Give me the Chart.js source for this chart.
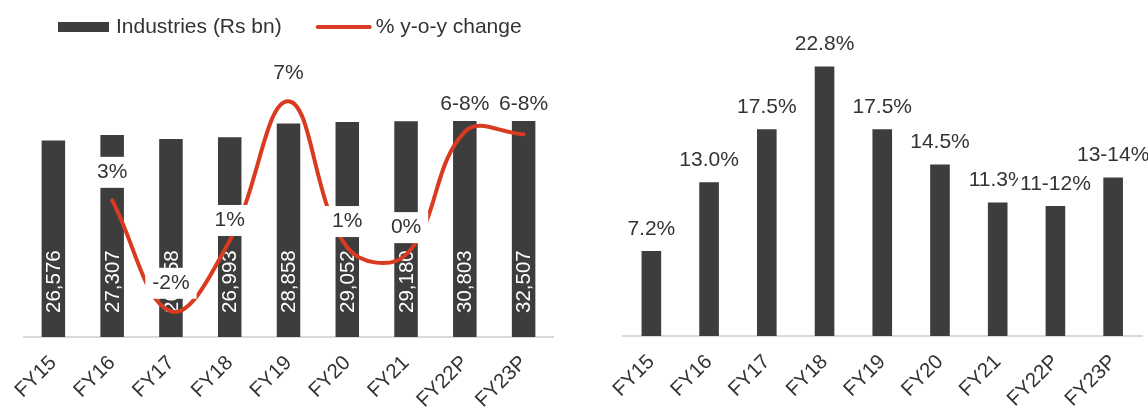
<!DOCTYPE html>
<html>
<head>
<meta charset="utf-8">
<script src="https://cdn.jsdelivr.net/npm/chart.js@4.4.1/dist/chart.umd.min.js"></script>
<style>
  html, body { margin: 0; padding: 0; background: #ffffff; }
  #wrap { position: relative; width: 1148px; height: 407px; overflow: hidden; background: #fff; }
  #left { position: absolute; left: 0; top: 0; width: 580px; height: 407px; }
  #right { position: absolute; left: 580px; top: 0; width: 568px; height: 407px; }
</style>
</head>
<body>
<div id="wrap">
  <div id="left"><canvas id="c1"></canvas></div>
  <div id="right"><canvas id="c2"></canvas></div>
</div>
<script>
// ---------- data ----------
const categories = ['FY15', 'FY16', 'FY17', 'FY18', 'FY19', 'FY20', 'FY21', 'FY22P', 'FY23P'];
const industriesRsBn = [26576, 27307, 26758, 26993, 28858, 29052, 29180, 30803, 32507];
const yoyChangePct = [null, 2.7, -2.0, 1.0, 6.9, 0.7, 0.4, 5.6, 5.5];
const yoyLabels = ['', '3%', '-2%', '1%', '7%', '1%', '0%', '6-8%', '6-8%'];
const growthPct = [7.2, 13.0, 17.5, 22.8, 17.5, 14.5, 11.3, 11.0, 13.4];
const growthLabels = ['7.2%', '13.0%', '17.5%', '22.8%', '17.5%', '14.5%', '11.3%', '11-12%', '13-14%'];
const seriesNames = ['Industries (Rs bn)', '% y-o-y change'];

// ---------- style ----------
const FONT = '"Liberation Sans", Arial, sans-serif';
const BAR = '#3d3d3d';
const RED = '#d83b1f';
const TEXT = '#333333';
const AXIS = '#d9d9d9';
// vertical lift (px) of each y-o-y label above its point
const yoyLabelLift = [0, 28, 28, 20, 28, 26, 27, 28, 30];

Chart.defaults.font.family = FONT;
Chart.defaults.color = TEXT;
Chart.defaults.animation = false;

function xAxis(height) {
  return {
    offset: true,
    grid: { display: false, drawTicks: false },
    border: { display: true, color: AXIS, width: 2 },
    ticks: { autoSkip: false, minRotation: 45, maxRotation: 45, padding: 14, color: TEXT, font: { size: 20.5, family: FONT } },
    afterFit(scale) { scale.height = height; }
  };
}

function labelBox(ctx, text, cx, cy, padX, h) {
  const w = ctx.measureText(text).width + 2 * padX;
  ctx.fillStyle = '#ffffff';
  ctx.fillRect(cx - w / 2, cy - h / 2, w, h);
  ctx.fillStyle = TEXT;
  ctx.fillText(text, cx, cy);
}

// ---------- left chart plugins ----------
const leftLabels = {
  id: 'leftLabels',
  afterDatasetDraw(chart, args) {
    const ds = chart.data.datasets[args.index];
    if (ds.type !== 'bar') return;
    const ctx = chart.ctx;
    ctx.save();
    ctx.font = '20.5px ' + FONT;
    ctx.fillStyle = '#ffffff';
    ctx.textAlign = 'left';
    ctx.textBaseline = 'middle';
    args.meta.data.forEach((bar, i) => {
      ctx.save();
      ctx.translate(bar.x, bar.base - 24);
      ctx.rotate(-Math.PI / 2);
      ctx.fillText(ds.data[i].toLocaleString('en-US'), 0, 1);
      ctx.restore();
    });
    ctx.restore();
  },
  afterDatasetsDraw(chart) {
    const ctx = chart.ctx;
    const idx = chart.data.datasets.findIndex(d => d.type === 'line');
    const meta = chart.getDatasetMeta(idx);
    ctx.save();
    ctx.font = '21px ' + FONT;
    ctx.textAlign = 'center';
    ctx.textBaseline = 'middle';
    meta.data.forEach((pt, i) => {
      if (!yoyLabels[i] || yoyChangePct[i] === null) return;
      labelBox(ctx, yoyLabels[i], pt.x, pt.y - yoyLabelLift[i], 7, 31);
    });
    ctx.restore();
  },
  afterDraw(chart) {
    const ctx = chart.ctx;
    const ds = chart.data.datasets;
    const cy = 27;
    ctx.save();
    ctx.font = '21px ' + FONT;
    ctx.textAlign = 'left';
    ctx.textBaseline = 'middle';
    let x = 58;
    ctx.fillStyle = ds[0].backgroundColor;
    ctx.fillRect(x, cy - 5, 51, 10);
    x += 51 + 7;
    ctx.fillStyle = TEXT;
    ctx.fillText(ds[0].label, x, cy);
    x += ctx.measureText(ds[0].label).width + 34;
    ctx.strokeStyle = ds[1].borderColor;
    ctx.lineWidth = 4;
    ctx.lineCap = 'round';
    ctx.beginPath();
    ctx.moveTo(x + 2, cy);
    ctx.lineTo(x + 54, cy);
    ctx.stroke();
    x += 56 + 4;
    ctx.fillText(ds[1].label, x, cy);
    ctx.restore();
  }
};

new Chart(document.getElementById('c1'), {
  type: 'bar',
  data: {
    labels: categories,
    datasets: [
      {
        type: 'bar',
        label: seriesNames[0],
        data: industriesRsBn,
        backgroundColor: BAR,
        yAxisID: 'y',
        order: 1,
        categoryPercentage: 1,
        barPercentage: 0.40,
        clip: { left: 0, right: 0, bottom: 0, top: -71 }
      },
      {
        type: 'line',
        label: seriesNames[1],
        data: yoyChangePct,
        borderColor: RED,
        backgroundColor: RED,
        borderWidth: 4,
        borderCapStyle: 'round',
        pointRadius: 0,
        tension: 0.4,
        yAxisID: 'y1',
        order: 0,
        clip: false
      }
    ]
  },
  options: {
    responsive: true,
    maintainAspectRatio: false,
    devicePixelRatio: 1,
    layout: { padding: { left: 24, right: 27, top: 50, bottom: 0 } },
    plugins: { legend: { display: false }, tooltip: { enabled: false } },
    scales: {
      x: xAxis(70),
      y: { display: false, min: 0, max: 38800 },
      y1: { display: false, min: -3.09, max: 9.07 }
    }
  },
  plugins: [leftLabels]
});

// ---------- right chart ----------
const rightLabels = {
  id: 'rightLabels',
  afterDatasetsDraw(chart) {
    const ctx = chart.ctx;
    const meta = chart.getDatasetMeta(0);
    ctx.save();
    ctx.font = '21px ' + FONT;
    ctx.textAlign = 'center';
    ctx.textBaseline = 'middle';
    meta.data.forEach((bar, i) => {
      labelBox(ctx, growthLabels[i], bar.x, bar.y - 22, 2, 24);
    });
    ctx.restore();
  }
};

new Chart(document.getElementById('c2'), {
  type: 'bar',
  data: {
    labels: categories,
    datasets: [{
      label: 'Growth',
      data: growthPct,
      backgroundColor: BAR,
      categoryPercentage: 1,
      barPercentage: 0.34
    }]
  },
  options: {
    responsive: true,
    maintainAspectRatio: false,
    devicePixelRatio: 1,
    layout: { padding: { left: 42.5, right: 6, top: 40.5, bottom: 0 } },
    plugins: { legend: { display: false }, tooltip: { enabled: false } },
    scales: {
      x: xAxis(71),
      y: { display: false, min: 0, max: 25 }
    }
  },
  plugins: [rightLabels]
});
</script>
</body>
</html>
